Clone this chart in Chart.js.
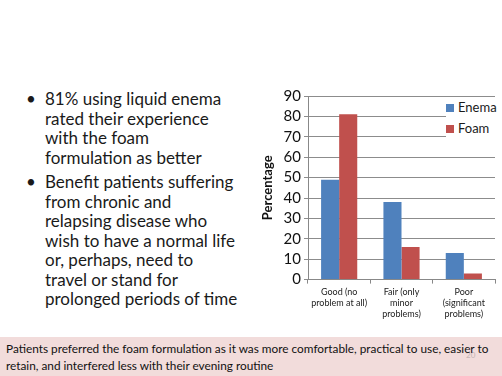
<!DOCTYPE html>
<html>
<head>
<meta charset="utf-8">
<script src="https://cdn.jsdelivr.net/npm/chart.js@4.4.0/dist/chart.umd.min.js"></script>
<style>
	body { margin: 0; width: 502px; height: 376px; overflow: hidden; background: #fff; font-family: Lato, "Noto Sans", sans-serif; position: relative; }
	#bullets { position: absolute; left: 24px; top: 89px; width: 240px; margin: 0; padding: 0; list-style: none; font-size: 17px; line-height: 19.5px; color: #1a1a1a; }
	#bullets li { position: relative; padding-left: 21px; margin-bottom: 5px; }
	#bullets li:before { content: "\2022"; position: absolute; left: 2px; top: 0; }
	#chartBox { position: absolute; left: 260px; top: 84px; width: 240px; height: 238px; }
	#legend { position: absolute; left: 446px; top: 98px; background: #fff; font-size: 13px; color: #1a1a1a; }
	#legend div { height: 21px; line-height: 19px; white-space: nowrap; }
	#legend span { display: inline-block; width: 8px; height: 8px; margin-right: 4px; }
	#footer { position: absolute; left: 0; top: 337px; width: 502px; height: 39px; background: #f2dcdb; font-size: 11.8px; line-height: 17px; color: #111; }
	#footer p { margin: 0; padding: 3px 0 0 6px; white-space: nowrap; position: relative; z-index: 1; }
	#pageNum { position: absolute; left: 466px; top: 10px; font-size: 8px; color: #c4b4b4; }
</style>
</head>
<body>
<ul id="bullets">
	<li>81% using liquid enema<br>rated their experience<br>with the foam<br>formulation as better</li>
	<li>Benefit patients suffering<br>from chronic and<br>relapsing disease who<br>wish to have a normal life<br>or, perhaps, need to<br>travel or stand for<br>prolonged periods of time</li>
</ul>
<div id="chartBox"><canvas id="myChart"></canvas></div>
<div id="legend"></div>
<div id="footer">
	<div id="pageNum">20</div>
	<p>Patients preferred the foam formulation as it was more comfortable, practical to use, easier to<br>retain, and interfered less with their evening routine</p>
</div>
<script>
var categories = [['Good (no', 'problem at all)'], ['Fair (only', 'minor', 'problems)'], ['Poor', '(significant', 'problems)']];
var seriesNames = ['Enema', 'Foam'];
var enemaValues = [49, 38, 13];
var foamValues = [81, 16, 3];
var seriesColors = ['#4f81bd', '#c0504d'];
var yTicks = [0, 10, 20, 30, 40, 50, 60, 70, 80, 90];

var legendHtml = '';
seriesNames.forEach(function(n, i) {
	legendHtml += '<div><span style="background:' + seriesColors[i] + '"></span>' + n + '</div>';
});
document.getElementById('legend').innerHTML = legendHtml;

const ctx = document.getElementById('myChart').getContext('2d');
const myChart = new Chart(ctx, {
	type: 'bar',
	data: {
		labels: categories,
		datasets: [{
			label: seriesNames[0],
			data: enemaValues,
			backgroundColor: seriesColors[0],
			barPercentage: 1,
			categoryPercentage: 0.58
		}, {
			label: seriesNames[1],
			data: foamValues,
			backgroundColor: seriesColors[1],
			barPercentage: 1,
			categoryPercentage: 0.58
		}]
	},
	options: {
		responsive: true,
		maintainAspectRatio: false,
		animation: false,
		layout: { padding: { top: 3, right: 5 } },
		plugins: {
			legend: { display: false },
			tooltip: { enabled: false }
		},
		scales: {
			x: {
				grid: { offset: true, drawOnChartArea: false, color: '#888', tickLength: 4 },
				border: { color: '#888' },
				ticks: { color: '#222', font: { family: 'Lato', size: 9 }, maxRotation: 0, autoSkip: false }
			},
			y: {
				min: 0,
				max: 90,
				afterBuildTicks: function(scale) {
					scale.ticks = yTicks.map(function(v) { return { value: v }; });
				},
				afterFit: function(scale) { scale.width = 48; },
				grid: { color: '#8c8c8c', tickLength: 4 },
				border: { color: '#888' },
				ticks: { color: '#111', font: { family: 'Lato', size: 15 }, padding: 3, autoSkip: false },
				title: { display: true, text: 'Percentage', color: '#111', font: { family: 'Lato', size: 13, weight: 'bold' }, padding: 0 }
			}
		}
	}
});
</script>
</body>
</html>
